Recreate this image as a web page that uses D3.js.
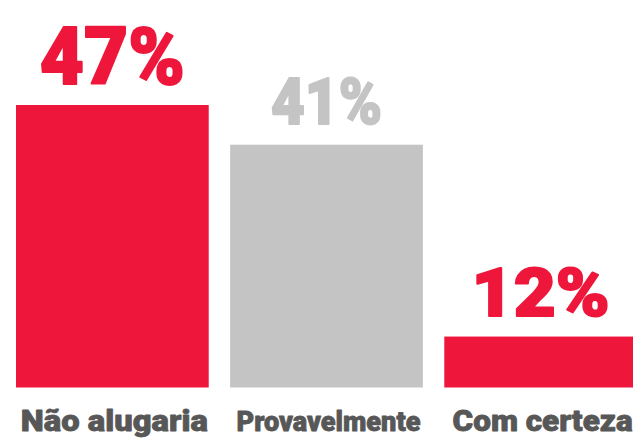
<!DOCTYPE html>
<html>
<head>
<meta charset="utf-8">
<script src="https://cdn.jsdelivr.net/npm/d3@7"></script>
<style>
  body { margin: 0; background: #fff; }
  svg { display: block; }
  text { font-family: "Roboto", "Open Sans", sans-serif; font-weight: 900; }
</style>
</head>
<body>
<svg id="chart" width="633" height="440"></svg>
<script>
// Data
var categories = ["Não alugaria", "Provavelmente", "Com certeza"];
var values = [47, 41, 12];
var valueLabels = ["47%", "41%", "12%"];

// Styles (per bar)
var barColors = ["#ee173b", "#c4c4c4", "#ee173b"];
var valueFont = [80, 65, 67];
var valueWidth = [145, 111, 138];
var catFont = [30, 27, 29];
var catWidth = [187, 184, 180];

var svg = d3.select("#chart"),
    width = +svg.attr("width"),
    height = +svg.attr("height");

var x = d3.scaleBand()
    .domain(categories)
    .range([16, 637])
    .paddingInner(0.1);

// the drawn bars do not start from zero
var y = d3.scaleLinear()
    .domain([4.3, 47])
    .range([387.5, 105]);

var g = svg.append("g");

g.selectAll("rect.bar")
  .data(values)
  .enter().append("rect")
    .attr("class", "bar")
    .attr("x", function(d, i) { return x(categories[i]); })
    .attr("y", function(d) { return y(d); })
    .attr("width", x.bandwidth())
    .attr("height", function(d) { return y.range()[0] - y(d); })
    .attr("fill", function(d, i) { return barColors[i]; });

// value labels
g.selectAll("text.value")
  .data(values)
  .enter().append("text")
    .attr("class", "value")
    .attr("x", function(d, i) { return x(categories[i]) + x.bandwidth() / 2; })
    .attr("y", function(d) { return y(d) - 21; })
    .attr("text-anchor", "middle")
    .attr("font-size", function(d, i) { return valueFont[i]; })
    .attr("textLength", function(d, i) { return valueWidth[i]; })
    .attr("lengthAdjust", "spacingAndGlyphs")
    .attr("fill", function(d, i) { return barColors[i]; })
    .attr("stroke", function(d, i) { return barColors[i]; })
    .attr("stroke-width", 2)
    .attr("stroke-linejoin", "round")
    .text(function(d, i) { return valueLabels[i]; });

// category labels
g.selectAll("text.cat")
  .data(categories)
  .enter().append("text")
    .attr("class", "cat")
    .attr("x", function(d) { return x(d) + x.bandwidth() / 2 + 2; })
    .attr("y", 431)
    .attr("text-anchor", "middle")
    .attr("font-size", function(d, i) { return catFont[i]; })
    .attr("textLength", function(d, i) { return catWidth[i]; })
    .attr("lengthAdjust", "spacingAndGlyphs")
    .attr("fill", "#575757")
    .attr("stroke", "#575757")
    .attr("stroke-width", 0.8)
    .attr("stroke-linejoin", "round")
    .text(function(d) { return d; });
</script>
</body>
</html>
